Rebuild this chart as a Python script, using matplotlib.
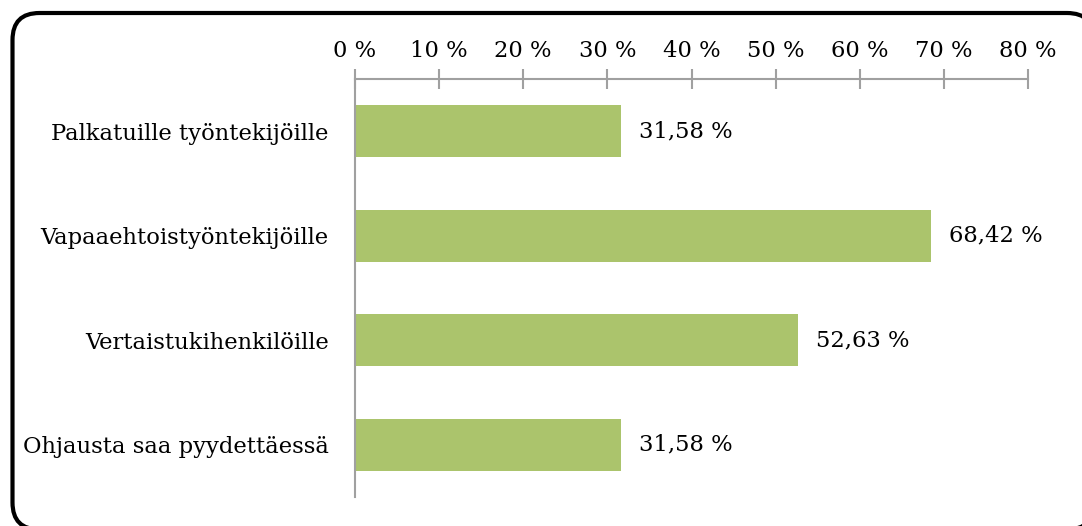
import matplotlib
matplotlib.use("Agg")
import matplotlib.pyplot as plt
from matplotlib.patches import FancyBboxPatch
from matplotlib.transforms import IdentityTransform

# data
kategoriat = ["Palkatuille työntekijöille", "Vapaaehtoistyöntekijöille",
              "Vertaistukihenkilöille", "Ohjausta saa pyydettäessä"]
osuudet = [31.58, 68.42, 52.63, 31.58]
xtiks = [0, 10, 20, 30, 40, 50, 60, 70, 80]

plt.rcParams['font.family'] = ['DejaVu Serif']

vihrea = "#abc46c"
harmaa = "#a0a0a0"
koko = 16.3

fig = plt.figure(figsize=(10.82, 5.26), dpi=100)
ax = fig.add_axes([355/1082, 1 - 497/526, (1028-355)/1082, (497-79)/526])
ax.patch.set_visible(False)

y = list(range(len(kategoriat)))
ax.barh(y, osuudet, height=0.5, color=vihrea)
for yi, v in zip(y, osuudet):
    ax.text(v + 2.2, yi, f"{v:.2f} %".replace(".", ","), va="center", ha="left", fontsize=koko)

ax.set_xlim(0, 80)
ax.set_ylim(3.5, -0.5)
ax.set_xticks(xtiks)
ax.set_xticklabels([f"{t} %" for t in xtiks], fontsize=koko)
ax.xaxis.tick_top()
ax.tick_params(axis="x", direction="inout", length=15, width=1.5, color=harmaa, pad=5)
ax.set_yticks(y)
ax.set_yticklabels(kategoriat, fontsize=koko)
ax.tick_params(axis="y", length=0, pad=19)

for s in ["right", "bottom"]:
    ax.spines[s].set_visible(False)
for s in ["top", "left"]:
    ax.spines[s].set_color(harmaa)
    ax.spines[s].set_linewidth(1.5)

# rounded frame around the chart (pixel coordinates), filled white so it is
# not clipped at the canvas edge
kehys = FancyBboxPatch((12.5, -3.5), 1094 - 12.5, 513 + 3.5,
                       boxstyle="round,pad=0,rounding_size=27",
                       transform=IdentityTransform(), facecolor="white",
                       edgecolor="black", linewidth=3, zorder=-1)
fig.patches.append(kehys)

fig.savefig("out.png", dpi=100)
